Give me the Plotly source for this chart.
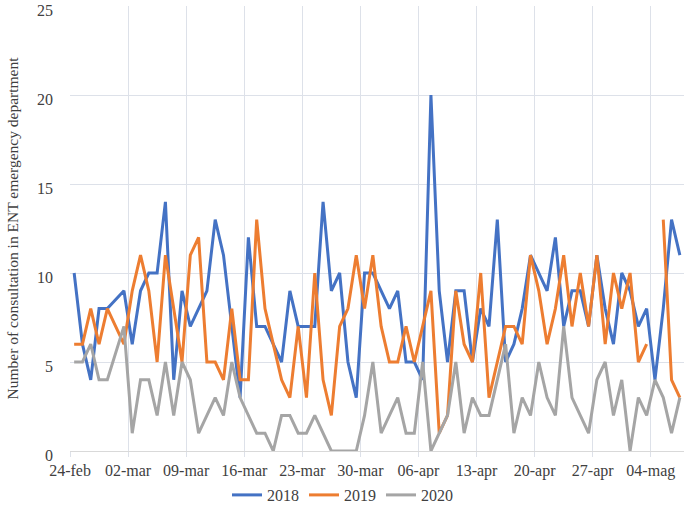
import pandas as pd
import plotly.graph_objects as go

# Days shown (2020 calendar); 29-feb has no data in any series
all_days = pd.date_range("2020-02-24", "2020-05-07", freq="D")
days = [d for d in all_days if not (d.month == 2 and d.day == 29)]

series_names = ["2018", "2019", "2020"]

visits_2018 = [10, 6, 4, 8, 8,
               9, 6, 9, 10, 10,
               14, 4, 9, 7, 8,
               9, 13, 11, 7, 3,
               12, 7, 7, 6, 5,
               9, 7, 7, 7, 14,
               9, 10, 5, 3, 10,
               10, 9, 8, 9, 5,
               5, 4, 20, 9, 5,
               9, 9, 5, 8, 7,
               13, 5, 6, 8, 11,
               10, 9, 12, 7, 9,
               9, 7, 11, 8, 6,
               10, 9, 7, 8, 4,
               8, 13, 11]

visits_2019 = [6, 6, 8, 6, 8,
               6, 9, 11, 9, 5,
               11, 8, 5, 11, 12,
               5, 5, 4, 8, 4,
               4, 13, 8, 6, 4,
               3, 7, 3, 10, 4,
               2, 7, 8, 11, 8,
               11, 7, 5, 5, 7,
               5, 7, 9, 1, 2,
               9, 6, 5, 10, 3,
               5, 7, 7, 6, 11,
               9, 6, 8, 11, 7,
               10, 7, 11, 6, 10,
               8, 10, 5, 6, None,
               13, 4, 3]

visits_2020 = [5, 5, 6, 4, 4,
               7, 1, 4, 4, 2,
               5, 2, 5, 4, 1,
               2, 3, 2, 5, 3,
               2, 1, 1, 0, 2,
               2, 1, 1, 2, 1,
               0, 0, 0, 0, 2,
               5, 1, 2, 3, 1,
               1, 5, 0, 1, 2,
               5, 1, 3, 2, 2,
               4, 6, 1, 3, 2,
               5, 3, 2, 7, 3,
               2, 1, 4, 5, 2,
               4, 0, 3, 2, 4,
               3, 1, 3]

tick_dates = ["2020-02-24", "2020-03-02", "2020-03-09", "2020-03-16", "2020-03-23",
              "2020-03-30", "2020-04-06", "2020-04-13", "2020-04-20", "2020-04-27",
              "2020-05-04"]
tick_labels = ["24-feb", "02-mar", "09-mar", "16-mar", "23-mar", "30-mar",
               "06-apr", "13-apr", "20-apr", "27-apr", "04-mag"]

y_ticks = [0, 5, 10, 15, 20, 25]
y_title = "Number of consultation in ENT emergency department"

colors = ["#4472C4", "#ED7D31", "#A5A5A5"]

# place each daily point in the middle of its day slot
x_vals = [(d + pd.Timedelta(hours=12)).strftime("%Y-%m-%d %H:%M") for d in days]

fig = go.Figure()
for name, vals, col in zip(series_names, [visits_2018, visits_2019, visits_2020], colors):
    fig.add_trace(go.Scatter(
        x=x_vals, y=vals, name=name, mode="lines",
        line=dict(color=col, width=3),
        connectgaps=False,
    ))

serif = '"Liberation Serif", "Times New Roman", serif'
grid = "#dde1e9"
txt = "#404040"

fig.update_layout(
    width=685, height=509,
    margin=dict(l=70, r=1, t=6, b=58, autoexpand=False),
    paper_bgcolor="white", plot_bgcolor="white",
    font=dict(family=serif, size=16, color=txt),
    showlegend=True,
    legend=dict(orientation="h", xref="container", x=0.5, xanchor="center",
                yref="container", y=(509 - 495) / 509, yanchor="middle",
                font=dict(family=serif, size=16, color=txt),
                itemwidth=30, tracegroupgap=0),
)

fig.update_xaxes(
    type="date",
    range=["2020-02-24", "2020-05-08"],
    tickmode="array", tickvals=tick_dates, ticktext=tick_labels,
    showgrid=True, gridcolor=grid, gridwidth=1,
    ticks="outside", ticklen=5, tickcolor=grid,
    showline=True, linecolor="#d9d9d9", linewidth=1,
    tickfont=dict(family=serif, size=16, color=txt),
    zeroline=False, automargin=False,
)
fig.update_yaxes(
    range=[0, 25], tickmode="array", tickvals=y_ticks,
    showgrid=True, gridcolor=grid, gridwidth=1,
    zeroline=False, showline=False,
    ticklabelstandoff=16, ticklabeloverflow="allow",
    ticklabelshift=4,
    tickfont=dict(family=serif, size=16, color=txt),
    automargin=False,
)

fig.add_annotation(
    text=y_title, textangle=-90,
    xref="paper", yref="paper", x=(12 - 70) / 614, y=0.5,
    xanchor="center", yanchor="middle", showarrow=False,
    font=dict(family=serif, size=15.5, color=txt),
)

fig.write_html("out.html",
               config={"displayModeBar": False},
               post_script="document.body.style.margin='0';document.body.style.padding='0';")
